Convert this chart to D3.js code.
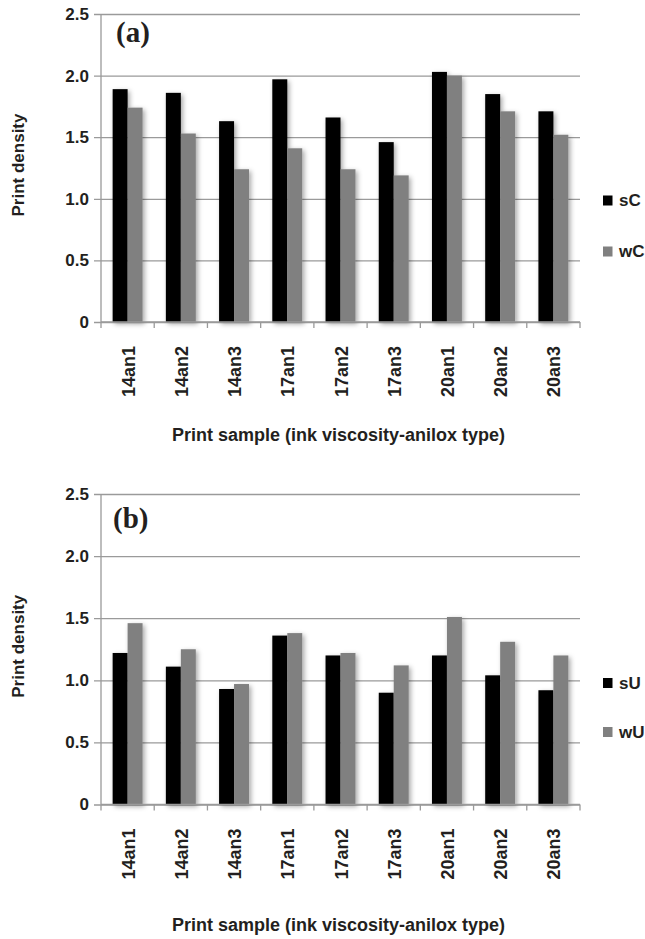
<!DOCTYPE html>
<html>
<head>
<meta charset="utf-8">
<script src="https://cdn.jsdelivr.net/npm/d3@7"></script>
<style>
  body { margin: 0; background: #fff; }
  text { font-family: "Liberation Sans", Arial, Helvetica, sans-serif; font-weight: bold; fill: #231f20; }
</style>
</head>
<body>
<svg id="chart" width="645" height="939"></svg>
<script>
// data
const categories = ["14an1", "14an2", "14an3", "17an1", "17an2", "17an3", "20an1", "20an2", "20an3"];
const sC = [1.89, 1.86, 1.63, 1.97, 1.66, 1.46, 2.03, 1.85, 1.71];
const wC = [1.74, 1.53, 1.24, 1.41, 1.24, 1.19, 2.00, 1.71, 1.52];
const sU = [1.22, 1.11, 0.93, 1.36, 1.20, 0.90, 1.20, 1.04, 0.92];
const wU = [1.46, 1.25, 0.97, 1.38, 1.22, 1.12, 1.51, 1.31, 1.20];
const yTicks = [0, 0.5, 1.0, 1.5, 2.0, 2.5];
const xTitle = "Print sample (ink viscosity-anilox type)";
const yTitle = "Print density";

const svg = d3.select("#chart");
svg.append("rect").attr("width", "100%").attr("height", "100%").attr("fill", "#fff");

// soft excel-like shadow behind bars
const filter = svg.append("defs").append("filter").attr("id", "shadow")
    .attr("x", "-50%").attr("y", "-10%").attr("width", "200%").attr("height", "130%");
filter.append("feDropShadow").attr("dx", 2).attr("dy", 2).attr("stdDeviation", 2.5)
    .attr("flood-color", "#000").attr("flood-opacity", 0.35);

const color = d3.scaleOrdinal().domain([0, 1]).range(["#000000", "#808080"]);
const left = 101, right = 580;

function drawPanel(panel){
    const g = svg.append("g");
    const names = panel.names;

    const x0 = d3.scaleBand().domain(categories).range([left, right])
        .paddingInner(0.4375).paddingOuter(0.21875);
    const x1 = d3.scaleBand().domain([0, 1]).range([0, x0.bandwidth()]);
    const y = d3.scaleLinear().domain([0, 2.5]).range([panel.bottom, panel.top]);
    const step = x0.step();

    // grid + y ticks
    const yAxis = d3.axisLeft(y).tickValues(yTicks).tickSize(-(right - left))
        .tickPadding(12).tickFormat(d => d === 0 ? "0" : d3.format(".1f")(d));
    const ya = g.append("g").attr("transform", `translate(${left},0)`).call(yAxis);
    ya.select(".domain").remove();
    ya.selectAll(".tick line").attr("stroke", "#9a9a9a").attr("stroke-width", 1.3).attr("x1", -7);
    ya.selectAll(".tick text").style("font-size", "17px");

    // bars
    const rows = categories.map((c, i) => ({cat: c, vals: [panel.a[i], panel.b[i]]}));
    g.append("g").attr("filter", "url(#shadow)")
        .selectAll("g").data(rows).join("g")
        .attr("transform", d => `translate(${x0(d.cat)},0)`)
        .selectAll("rect").data(d => d.vals).join("rect")
        .attr("x", (d, i) => x1(i))
        .attr("width", x1.bandwidth())
        .attr("y", d => y(d))
        .attr("height", d => y(0) - y(d))
        .attr("fill", (d, i) => color(i));

    // axis lines
    g.append("line").attr("x1", left).attr("x2", left).attr("y1", panel.top).attr("y2", y(0))
        .attr("stroke", "#9a9a9a").attr("stroke-width", 1.3);
    g.append("line").attr("x1", left).attr("x2", right).attr("y1", y(0)).attr("y2", y(0))
        .attr("stroke", "#9a9a9a").attr("stroke-width", 1.3);
    const bounds = categories.map(c => x0(c) - step * 0.21875).concat([right]);
    g.selectAll(".xtick").data(bounds).join("line").attr("class", "xtick")
        .attr("x1", d => d).attr("x2", d => d).attr("y1", y(0)).attr("y2", y(0) + 6)
        .attr("stroke", "#9a9a9a").attr("stroke-width", 1.3);

    // category labels
    g.selectAll(".xlab").data(categories).join("text").attr("class", "xlab")
        .attr("transform", d => `translate(${x0(d) + x0.bandwidth() / 2 + 1},${y(0) + 24}) rotate(-90)`)
        .attr("text-anchor", "end").attr("dominant-baseline", "central")
        .style("font-size", "18px").text(d => d);

    // axis titles
    g.append("text").attr("x", (left + right) / 2 - 2).attr("y", panel.xTitleY)
        .attr("text-anchor", "middle").style("font-size", "18px").text(xTitle);
    g.append("text")
        .attr("transform", `translate(18,${(panel.top + y(0)) / 2 - 3}) rotate(-90)`)
        .attr("text-anchor", "middle").attr("dominant-baseline", "central")
        .style("font-size", "17px").text(yTitle);

    // panel tag
    g.append("text").attr("x", panel.tagX).attr("y", panel.tagY)
        .style("font-family", "'Liberation Serif', 'Times New Roman', serif")
        .style("font-size", "29px").text(panel.tag);

    // legend
    const leg = g.selectAll(".leg").data(names).join("g").attr("class", "leg")
        .attr("transform", (d, i) => `translate(603,${panel.legendY[i]})`);
    leg.append("rect").attr("x", 0).attr("y", -5).attr("width", 9.5).attr("height", 10)
        .attr("fill", (d, i) => color(i));
    leg.append("text").attr("x", 16).attr("y", 0).attr("dominant-baseline", "central")
        .style("font-size", "17px").text(d => d);
}

drawPanel({a: sC, b: wC, names: ["sC", "wC"], top: 14, bottom: 322,
    tag: "(a)", tagX: 116, tagY: 42, xTitleY: 441, legendY: [200.5, 251.5]});
drawPanel({a: sU, b: wU, names: ["sU", "wU"], top: 494, bottom: 804.5,
    tag: "(b)", tagX: 113, tagY: 528, xTitleY: 931, legendY: [683, 732]});
</script>
</body>
</html>
